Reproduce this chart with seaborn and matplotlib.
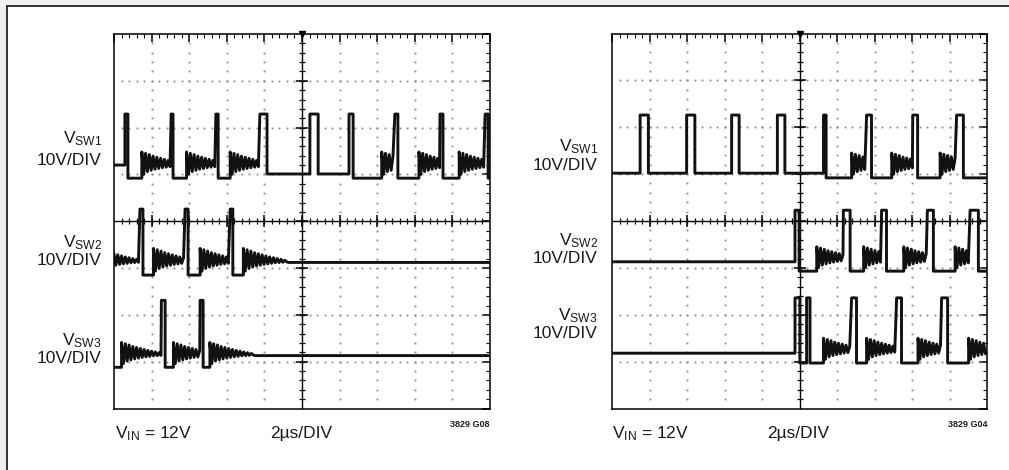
import numpy as np
import pandas as pd
import matplotlib
matplotlib.use('Agg')
import matplotlib.pyplot as plt
import seaborn as sns
from matplotlib.lines import Line2D
from matplotlib.patches import Rectangle


# Scope traces.
# x in divisions (2us/DIV, 0..10), y in divisions (0..8, 10V/DIV)
# each trace = segment boundaries + one kind letter per segment:
#   P = switch high, L = switch low, R = ringing (DCM), r = tail of ringing,
#   S = settled (channel idle), F = flat low between pulses

RING_STEP = 0.05   # half period of the ringing, in divisions
# ringing shape, fraction from ground level (0) to first peak (1)
RING = [1.0, 0.15, 0.95, 0.25, 0.9, 0.3, 0.84, 0.34, 0.8, 0.37, 0.76, 0.4,
        0.72, 0.42, 0.68, 0.44, 0.65, 0.46, 0.62, 0.47, 0.59, 0.48, 0.56, 0.5]

# left capture
left_sw1_t = [0, 0.29, 0.37, 0.74, 1.52, 1.57, 1.93, 2.71, 2.77, 3.09, 3.88, 4.07, 5.21,
              5.43, 6.25, 6.36, 7.12, 7.47, 7.55, 8.11, 8.67, 8.75, 9.18, 9.87, 9.95, 10]
left_sw1_kind = 'SPLRPLRPLRPFPFPLRPLRPLRPL'
left_sw2_t = [0, 0.69, 0.77, 1.05, 1.89, 1.97, 2.29, 3.09, 3.16, 3.44, 10]
left_sw2_kind = 'rPLRPLRPLR'
left_sw3_t = [0, 0.2, 1.26, 1.36, 1.58, 2.29, 2.37, 2.55, 10]
left_sw3_kind = 'LRPLRPLR'

# right capture
right_sw1_t = [0, 0.75, 0.97, 1.99, 2.21, 3.19, 3.39, 4.41, 4.61, 5.64, 5.71,
               6.39, 6.79, 6.92, 7.46, 8.02, 8.15, 8.75, 9.19, 9.37, 10]
right_sw1_kind = 'FPFPFPFPFPLRPLRPLRPL'
right_sw2_t = [0, 4.88, 4.99, 5.46, 6.17, 6.35, 6.71, 7.19, 7.32, 7.78, 8.41, 8.57, 9.15, 9.55, 9.77, 10]
right_sw2_kind = 'SPLRPLRPLRPLRPL'
right_sw3_t = [0, 4.88, 5.01, 5.19, 5.28, 5.64, 6.39, 6.52, 6.79, 7.59, 7.72, 8.16, 8.79, 8.95, 9.51, 10]
right_sw3_kind = 'SPLPLRPLRPLRPLR'

# levels in divisions: ground, high, settled, ring peak, flat
left_levels = [[4.92, 6.29, 5.20, 5.48, 5.01],
               [2.85, 4.26, 3.12, 3.42, 3.00],
               [0.88, 2.31, 1.13, 1.41, 0.95]]
right_levels = [[4.92, 6.26, 5.19, 5.45, 5.02],
                [2.93, 4.23, 3.13, 3.45, 3.00],
                [0.97, 2.36, 1.18, 1.50, 1.00]]

channels = ['SW1', 'SW2', 'SW3']


def build_trace(bounds, kinds, lv):
    gnd, high, settle, peak, flat = lv
    t, v = [], []
    for i, k in enumerate(kinds):
        t0, t1 = bounds[i], bounds[i + 1]
        if k in 'Rr':
            shape = RING if k == 'R' else RING[8:]
            done = True
            for j, f in enumerate(shape):
                tt = t0 + j * RING_STEP
                if tt >= t1:
                    done = False
                    break
                t.append(tt)
                v.append(gnd + f * (peak - gnd))
            if done:
                t += [t0 + len(shape) * RING_STEP, t1]
                v += [settle, settle]
        else:
            level = {'P': high, 'L': gnd, 'S': settle, 'F': flat}[k]
            t += [t0, t1]
            v += [level, level]
    return t, v


def make_frame(traces, levels):
    rows = []
    for ch, (bounds, kinds), lv in zip(channels, traces, levels):
        t, v = build_trace(bounds, kinds, lv)
        rows.append(pd.DataFrame({'t': t, 'v': v, 'ch': ch}))
    return pd.concat(rows, ignore_index=True)


left_df = make_frame([(left_sw1_t, left_sw1_kind), (left_sw2_t, left_sw2_kind),
                      (left_sw3_t, left_sw3_kind)], left_levels)
right_df = make_frame([(right_sw1_t, right_sw1_kind), (right_sw2_t, right_sw2_kind),
                       (right_sw3_t, right_sw3_kind)], right_levels)


# style
sns.set_style('white')
plt.rcParams['font.family'] = ['Liberation Sans', 'DejaVu Sans']
plt.rcParams['mathtext.fontset'] = 'custom'
plt.rcParams['mathtext.rm'] = 'Liberation Sans'
plt.rcParams['mathtext.it'] = 'Liberation Sans:italic'
plt.rcParams['mathtext.bf'] = 'Liberation Sans:bold'

W, H = 1009, 470
fig = plt.figure(figsize=(W / 100, H / 100), dpi=100)
fig.patch.set_facecolor('#f0f0f0')
fig.add_artist(Rectangle((7 / W, 0), 1, 1 - 6 / H, transform=fig.transFigure,
                         facecolor='white', edgecolor='none', zorder=-1))
fig.add_artist(Line2D([7 / W, 1], [1 - 6 / H, 1 - 6 / H], color='#222222', lw=1.3))
fig.add_artist(Line2D([7 / W, 7 / W], [0, 1 - 6 / H], color='#222222', lw=1.3))


def draw_graticule(ax):
    ax.set_xlim(0, 10)
    ax.set_ylim(0, 8)
    ax.set_facecolor('white')
    for s in ax.spines.values():
        s.set_color('black')
        s.set_linewidth(1.1)
    ax.set_xticks(range(11))
    ax.set_yticks(range(9))
    ax.set_xticks(np.arange(0, 10.01, 0.2), minor=True)
    ax.set_yticks(np.arange(0, 8.01, 0.2), minor=True)
    ax.tick_params(which='both', direction='in', top=True, right=True,
                   labelbottom=False, labelleft=False, color='black')
    ax.tick_params(which='major', length=6, width=1.1)
    ax.tick_params(which='minor', length=3, width=0.8)

    # dotted division lines
    xs = np.arange(0.2, 10, 0.2)
    ys = np.arange(0.2, 8, 0.2)
    for xi in [1, 2, 3, 4, 6, 7, 8, 9]:
        ax.plot([xi] * len(ys), ys, ls='none', marker='s', ms=1.3, mew=0, color='#888888')
    for yi in [1, 2, 3, 5, 6, 7]:
        ax.plot(xs, [yi] * len(xs), ls='none', marker='s', ms=1.3, mew=0, color='#888888')

    # centre cross with ruler ticks
    ax.axhline(4, color='black', lw=1.0)
    ax.axvline(5, color='black', lw=1.0)
    ax.plot(xs, [4] * len(xs), ls='none', marker='|', ms=5, mew=0.9, color='black')
    ax.plot(range(1, 10), [4] * 9, ls='none', marker='|', ms=9, mew=1.1, color='black')
    ax.plot([5] * len(ys), ys, ls='none', marker='_', ms=5, mew=0.9, color='black')
    ax.plot([5] * 7, range(1, 8), ls='none', marker='_', ms=9, mew=1.1, color='black')
    ax.plot(5, 8, marker='v', ms=5, color='black', clip_on=False)


ax1 = fig.add_axes([114 / W, 1 - 408.5 / H, 376 / W, 374.5 / H])
ax2 = fig.add_axes([612 / W, 1 - 408.5 / H, 375 / W, 375 / H])

for ax, df in [(ax1, left_df), (ax2, right_df)]:
    draw_graticule(ax)
    sns.lineplot(data=df, x='t', y='v', units='ch', estimator=None, sort=False,
                 color='#111111', lw=2.1, ax=ax)
    ax.set_xlabel('')
    ax.set_ylabel('')
    ax.set_xlim(0, 10)
    ax.set_ylim(0, 8)


# channel labels (figure pixel positions)
def ftext(x, y, s, **kw):
    fig.text(x / W, 1 - y / H, s, va='baseline', color='#1a1a1a', **kw)


FS = 12.5
left_lab_y = [(143, 165), (247, 265), (345, 363)]
right_lab_y = [(151, 170), (245, 263), (320, 338)]
for ch, (y1, y2) in zip(channels, left_lab_y):
    ftext(102, y1, r'V$_{\mathrm{%s}}$' % ch, ha='right', fontsize=FS)
    ftext(102, y2, '10V/DIV', ha='right', fontsize=FS)
for ch, (y1, y2) in zip(channels, right_lab_y):
    ftext(598, y1, r'V$_{\mathrm{%s}}$' % ch, ha='right', fontsize=FS)
    ftext(598, y2, '10V/DIV', ha='right', fontsize=FS)

# bottom notes
ftext(115, 438, r'V$_{\mathrm{IN}}$ = 12V', ha='left', fontsize=FS)
ftext(270, 438, '2µs/DIV', ha='left', fontsize=FS)
ftext(489, 427, '3829 G08', ha='right', fontsize=6.5, fontweight='bold')
ftext(612, 438, r'V$_{\mathrm{IN}}$ = 12V', ha='left', fontsize=FS)
ftext(767, 438, '2µs/DIV', ha='left', fontsize=FS)
ftext(987, 427, '3829 G04', ha='right', fontsize=6.5, fontweight='bold')

plt.savefig('out.png', dpi=100, facecolor=fig.get_facecolor())
